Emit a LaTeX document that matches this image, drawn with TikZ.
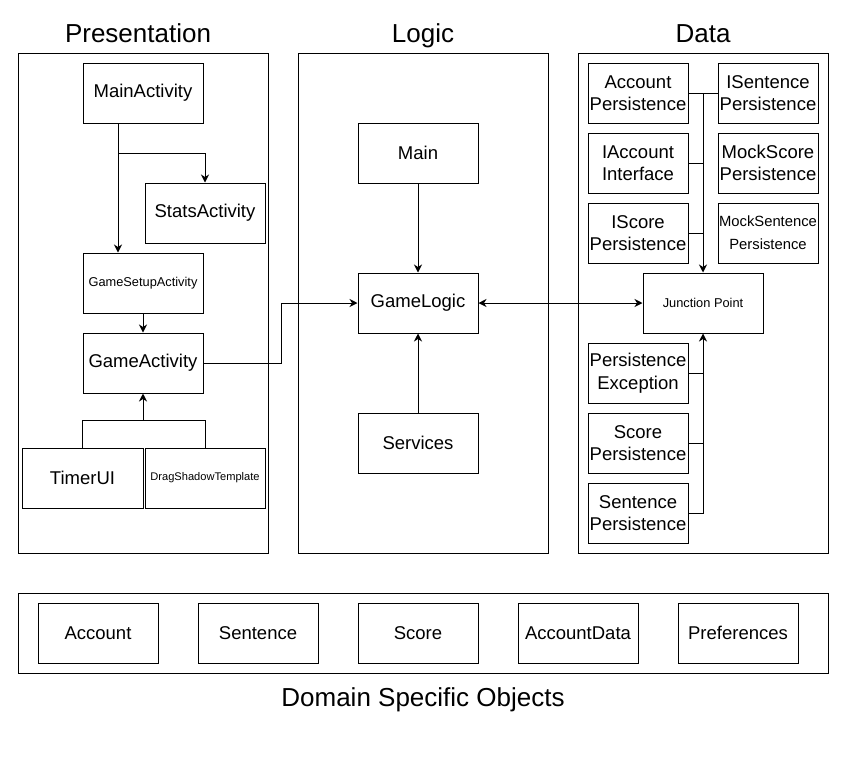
\documentclass[tikz,border=0pt]{standalone}
\usepackage{fontspec}
\setmainfont{Liberation Sans}
\usetikzlibrary{arrows.meta,calc}
\begin{document}
\begin{tikzpicture}[x=1pt,y=-1pt,
  line width=1pt,
  box/.style={draw,line width=1pt,minimum width=120pt,minimum height=60pt,inner sep=0pt,align=center,font=\fontsize{18.5}{22.5}\selectfont},
  small/.style={font=\fontsize{12.8}{15}\selectfont},
  tiny/.style={font=\fontsize{11.1}{13}\selectfont},
  mid/.style={font=\fontsize{14.8}{23}\selectfont},
  frame/.style={draw,line width=1pt,inner sep=0pt},
  title/.style={font=\fontsize{26}{30}\selectfont,inner sep=0pt,anchor=base},
  arr/.style={-{Stealth[length=8pt,width=8pt,inset=2.5pt]}},
  darr/.style={{Stealth[length=8pt,width=8pt,inset=2.5pt]}-{Stealth[length=8pt,width=8pt,inset=2.5pt]}}
]
\useasboundingbox (0,0) rectangle (847,756);
% containers
\node[frame,minimum width=250pt,minimum height=500pt] (pres) at (143,303) {};
\node[frame,minimum width=250pt,minimum height=500pt] (logc) at (423,303) {};
\node[frame,minimum width=250pt,minimum height=500pt] (data) at (703,303) {};
\node[frame,minimum width=810pt,minimum height=80pt] (dso) at (423,633) {};
% titles
\node[title] (tpres) at (138,42) {Presentation};
\node[title] (tlog) at (423,42) {Logic};
\node[title] (tdata) at (703,42) {Data};
\node[title] (tdso) at (423,706.5) {Domain Specific Objects};
% presentation
\node[box] (main) at (143,93) {MainActivity};
\node[box] (stats) at (205,213) {StatsActivity};
\node[box,small] (setup) at (143,283) {GameSetupActivity};
\node[box] (game) at (143,363) {GameActivity};
\node[box,minimum width=121pt] (timer) at (82.5,478) {TimerUI};
\node[box,tiny] (drag) at (205,478) {DragShadowTemplate};
\coordinate (b1) at (118,153);
\coordinate (b2) at (143,420);
\coordinate (b3) at (281,363);
\draw[arr] ([xshift=-25pt]main.south) -- ([xshift=-25pt]setup.north);
\draw[arr] (b1) -| (stats.north);
\draw[arr] (setup.south) -- (game.north);
\draw (timer.north) |- (b2);
\draw (drag.north) |- (b2);
\draw[arr] (b2) -- (game.south);
% logic
\node[box] (mainl) at (418,153) {Main};
\node[box] (gl) at (418,303) {GameLogic};
\node[box] (serv) at (418,443) {Services};
\draw[arr] (mainl.south) -- (gl.north);
\draw[arr] (serv.north) -- (gl.south);
\draw[arr] (game.east) -- (b3) |- (gl.west);
% data
\node[box,minimum width=100pt] (acc) at (638,93) {Account\\Persistence};
\node[box,minimum width=100pt] (isent) at (768,93) {ISentence\\Persistence};
\node[box,minimum width=100pt] (iacc) at (638,163) {IAccount\\Interface};
\node[box,minimum width=100pt] (mscore) at (768,163) {MockScore\\Persistence};
\node[box,minimum width=100pt] (iscore) at (638,233) {IScore\\Persistence};
\node[box,mid,minimum width=100pt] (msent) at (768,233) {MockSentence\\Persistence};
\node[box,small,minimum width=120pt] (jp) at (703,303) {Junction Point};
\node[box,minimum width=100pt] (pexc) at (638,373) {Persistence\\Exception};
\node[box,minimum width=100pt] (scorep) at (638,443) {Score\\Persistence};
\node[box,minimum width=100pt] (sentp) at (638,513) {Sentence\\Persistence};
\coordinate (t1) at (703,93);
\draw (acc.east) -- (isent.west);
\draw[arr] (t1) -- (jp.north);
\draw (iacc.east) -- (iacc.east -| jp.north);
\draw (iscore.east) -- (iscore.east -| jp.north);
\draw[arr] (sentp.east) -| (jp.south);
\draw (pexc.east) -- (pexc.east -| jp.south);
\draw (scorep.east) -- (scorep.east -| jp.south);
\draw[darr] (gl.east) -- (jp.west);
% domain objects
\node[box] (account) at (98,633) {Account};
\node[box] (sentence) at (258,633) {Sentence};
\node[box] (score) at (418,633) {Score};
\node[box] (accdata) at (578,633) {AccountData};
\node[box] (prefs) at (738,633) {Preferences};
\end{tikzpicture}
\end{document}
